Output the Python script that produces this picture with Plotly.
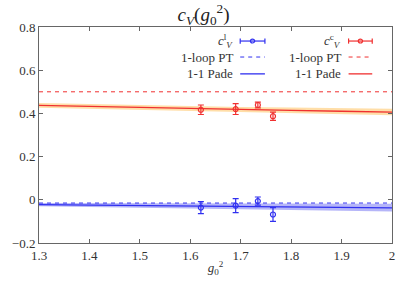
import plotly.graph_objects as go

# ---- data ----
g2_data = [1.621, 1.690, 1.734, 1.764]
cV_l = [-0.036, -0.027, -0.006, -0.068]
cV_l_err = [0.028, 0.032, 0.019, 0.032]
cV_c = [0.417, 0.420, 0.439, 0.387]
cV_c_err = [0.022, 0.025, 0.013, 0.019]

g2_curve = [1.3, 1.4, 1.5, 1.6, 1.7, 1.8, 1.9, 2.0]
pade_l = [-0.022, -0.024, -0.026, -0.028, -0.030, -0.033, -0.035, -0.037]
pade_l_lo = [-0.030, -0.033, -0.036, -0.039, -0.042, -0.046, -0.050, -0.054]
pade_l_hi = [-0.015, -0.015, -0.015, -0.015, -0.016, -0.016, -0.017, -0.018]
pade_c = [0.437, 0.432, 0.427, 0.421, 0.418, 0.414, 0.410, 0.406]
pade_c_lo = [0.426, 0.421, 0.416, 0.410, 0.406, 0.401, 0.396, 0.391]
pade_c_hi = [0.448, 0.443, 0.438, 0.433, 0.430, 0.427, 0.424, 0.421]
pt_l = -0.015
pt_c = 0.500

BLUE = "#3030f0"
RED = "#f03030"
FONT = "Times New Roman, Liberation Serif, DejaVu Serif, serif"

fig = go.Figure()

# bands
fig.add_trace(go.Scatter(x=g2_curve, y=pade_l_hi, mode="lines", line=dict(width=0), showlegend=False, hoverinfo="skip"))
fig.add_trace(go.Scatter(x=g2_curve, y=pade_l_lo, mode="lines", line=dict(width=0), fill="tonexty",
                         fillcolor="rgba(90,90,240,0.45)", showlegend=False, hoverinfo="skip"))
fig.add_trace(go.Scatter(x=g2_curve, y=pade_c_hi, mode="lines", line=dict(width=0), showlegend=False, hoverinfo="skip"))
fig.add_trace(go.Scatter(x=g2_curve, y=pade_c_lo, mode="lines", line=dict(width=0), fill="tonexty",
                         fillcolor="rgba(255,200,110,0.6)", showlegend=False, hoverinfo="skip"))

# PT lines
fig.add_trace(go.Scatter(x=[g2_curve[0], g2_curve[-1]], y=[pt_l, pt_l], mode="lines",
                         line=dict(color=BLUE, width=1, dash="4px,4px"), showlegend=False))
fig.add_trace(go.Scatter(x=[g2_curve[0], g2_curve[-1]], y=[pt_c, pt_c], mode="lines",
                         line=dict(color=RED, width=1, dash="4px,4px"), showlegend=False))

# Pade lines
fig.add_trace(go.Scatter(x=g2_curve, y=pade_l, mode="lines", line=dict(color=BLUE, width=1.3), showlegend=False))
fig.add_trace(go.Scatter(x=g2_curve, y=pade_c, mode="lines", line=dict(color=RED, width=1.3), showlegend=False))

# data points
fig.add_trace(go.Scatter(x=g2_data, y=cV_l, mode="markers",
                         marker=dict(symbol="circle-open", size=5, color=BLUE, line=dict(width=1.2)),
                         error_y=dict(type="data", array=cV_l_err, color=BLUE, thickness=1.2, width=3),
                         showlegend=False))
fig.add_trace(go.Scatter(x=g2_data, y=cV_c, mode="markers",
                         marker=dict(symbol="circle-open", size=5, color=RED, line=dict(width=1.2)),
                         error_y=dict(type="data", array=cV_c_err, color=RED, thickness=1.2, width=3),
                         showlegend=False))

# ---- manual legend (paper coords) ----
rows = [0.935, 0.861, 0.783]
cols = [(0.556, 0.570, 0.640, BLUE, "l"), (0.860, 0.877, 0.944, RED, "c")]
shapes = []
annotations = []
for tx, x0, x1, col, sup in cols:
    labels = [f"<i>c</i><sup>{sup}</sup><sub><i>V</i></sub>", "1-loop PT", "1-1 Pade"]
    for r, lab in zip(rows, labels):
        annotations.append(dict(x=tx, y=r, xref="paper", yref="paper", text=lab, showarrow=False,
                                xanchor="right", yanchor="middle",
                                font=dict(family=FONT, size=13, color="#333")))
    # errorbar sample
    shapes.append(dict(type="line", xref="paper", yref="paper", x0=x0, x1=x1, y0=rows[0], y1=rows[0],
                       line=dict(color=col, width=1.2)))
    for xe in (x0, x1):
        shapes.append(dict(type="line", xref="paper", yref="paper", x0=xe, x1=xe,
                           y0=rows[0] - 0.012, y1=rows[0] + 0.012, line=dict(color=col, width=1.2)))
    xm = (x0 + x1) / 2
    shapes.append(dict(type="circle", xref="paper", yref="paper", x0=xm - 0.006, x1=xm + 0.006,
                       y0=rows[0] - 0.009, y1=rows[0] + 0.009, line=dict(color=col, width=1.2)))
    shapes.append(dict(type="line", xref="paper", yref="paper", x0=x0, x1=x1, y0=rows[1], y1=rows[1],
                       line=dict(color=col, width=1, dash="4px,4px")))
    shapes.append(dict(type="line", xref="paper", yref="paper", x0=x0, x1=x1, y0=rows[2], y1=rows[2],
                       line=dict(color=col, width=1.3)))

axis_common = dict(showgrid=False, zeroline=False, showline=True, linecolor="#666", linewidth=1,
                   mirror="ticks", ticks="inside", ticklen=4, tickcolor="#666",
                   tickfont=dict(family=FONT, size=13, color="#333"))

fig.update_layout(
    width=407, height=285,
    margin=dict(l=34, r=15, t=27, b=28),
    paper_bgcolor="white", plot_bgcolor="white",
    font=dict(family=FONT),
    title=dict(text="<i>c<sub>V</sub></i>(<i>g</i><sub>0</sub><sup>2</sup>)", x=0.5, xanchor="center",
               y=1 - 14 / 285, yanchor="middle", font=dict(family=FONT, size=19, color="#222")),
    xaxis=dict(range=[1.3, 2.0], dtick=0.1, tickformat="~g",
               title=dict(text="<i>g</i><sub>0</sub><sup>2</sup>", standoff=1,
                          font=dict(family=FONT, size=13, color="#333")),
               **axis_common),
    yaxis=dict(range=[-0.2, 0.8], dtick=0.2, tickformat="~g", **axis_common),
    shapes=shapes, annotations=annotations,
    showlegend=False,
)

fig.write_html("out.html", config={"displayModeBar": False},
               post_script="document.body.style.margin='0';document.body.style.padding='0';")
